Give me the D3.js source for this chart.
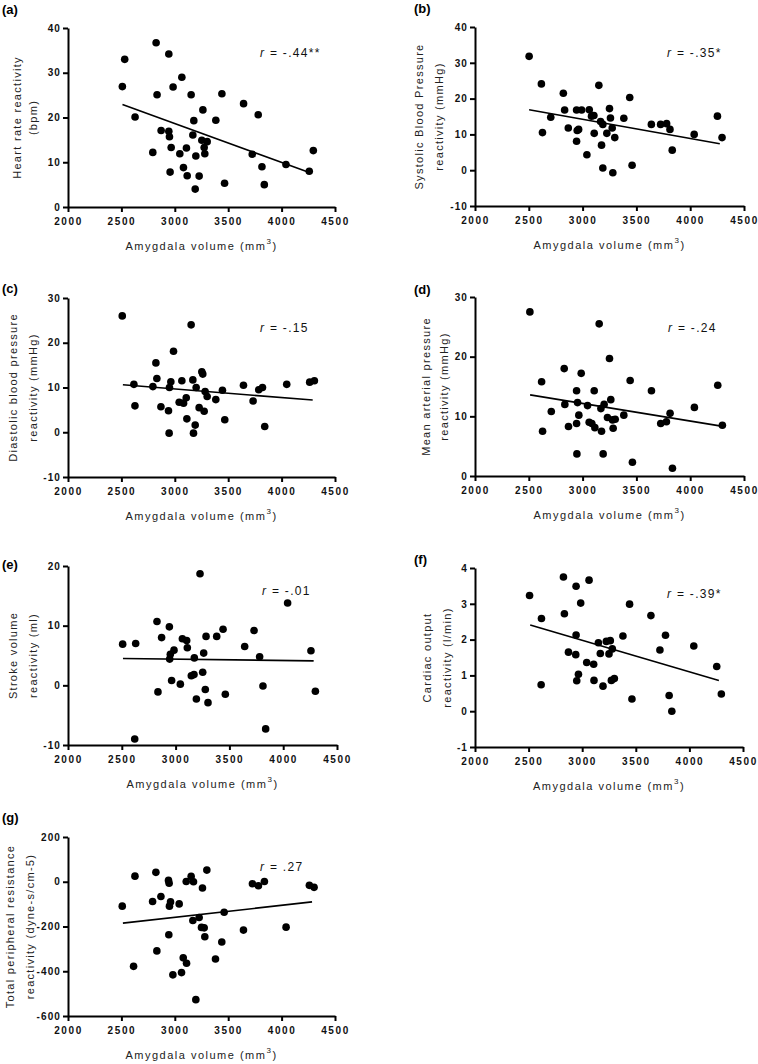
<!DOCTYPE html>
<html><head><meta charset="utf-8">
<script src="https://cdn.jsdelivr.net/npm/d3@7"></script>
<style>body{margin:0;background:#fff}svg{display:block}</style>
</head><body>
<svg id="chart" width="758" height="1064"></svg>
<script>
// ---------- DATA ----------
const xTicks = [2000, 2500, 3000, 3500, 4000, 4500];
const xDomain = [2000, 4500];

const hrPoints = [[2509,26.9],[2531,33.0],[2628,20.1],[2794,12.2],[2825,36.7],[2834,25.1],[2872,17.1],[2944,34.2],[2944,16.9],[2950,15.7],[2956,7.8],[2966,13.3],[2984,26.8],[3047,11.9],[3066,29.0],[3081,8.8],[3109,13.2],[3116,7.0],[3153,25.1],[3169,16.1],[3178,19.3],[3191,4.0],[3197,11.4],[3228,6.9],[3253,14.9],[3263,21.7],[3275,13.3],[3281,11.9],[3303,14.6],[3384,19.4],[3441,25.3],[3466,5.3],[3644,23.1],[3725,11.8],[3781,20.6],[3816,9.0],[3838,5.0],[4041,9.5],[4259,8.0],[4297,12.6]];
const sbpPoints = [[2503,31.8],[2617,24.1],[2627,10.5],[2704,14.8],[2821,21.5],[2833,16.8],[2867,11.8],[2944,16.8],[2944,8.1],[2950,11.1],[2963,11.4],[2991,16.8],[3040,4.3],[3062,16.9],[3083,15.1],[3105,15.3],[3108,10.3],[3151,23.7],[3167,13.6],[3176,7.0],[3188,12.8],[3188,0.6],[3225,10.3],[3250,17.2],[3259,14.6],[3275,11.8],[3281,-0.7],[3299,9.1],[3383,14.5],[3438,20.3],[3460,1.4],[3639,12.8],[3725,12.8],[3781,13.0],[3812,11.4],[3833,5.6],[4037,10.0],[4253,15.1],[4296,9.1]];
const dbpPoints = [[2508,26.0],[2617,10.7],[2627,5.9],[2795,10.2],[2823,15.5],[2832,12.0],[2870,5.7],[2941,4.8],[2947,-0.2],[2950,10.0],[2963,11.3],[2988,18.1],[3041,6.7],[3066,11.5],[3082,6.5],[3107,7.7],[3113,3.0],[3153,24.0],[3169,11.7],[3175,-0.2],[3191,1.6],[3200,10.0],[3228,5.5],[3253,13.5],[3262,13.0],[3275,4.7],[3284,9.1],[3303,8.0],[3384,7.3],[3446,9.4],[3468,2.8],[3643,10.5],[3733,7.0],[3786,9.5],[3821,10.0],[3842,1.3],[4048,10.7],[4263,11.2],[4307,11.5]];
const mapPoints = [[2510,27.5],[2619,15.8],[2628,7.5],[2709,10.8],[2829,18.0],[2835,12.0],[2869,8.3],[2944,14.3],[2944,8.8],[2947,3.7],[2953,12.3],[2965,10.2],[2987,17.2],[3046,11.8],[3061,9.0],[3086,8.8],[3108,14.3],[3114,8.1],[3154,25.5],[3170,11.3],[3176,7.5],[3191,3.7],[3200,12.0],[3231,9.8],[3250,19.7],[3262,12.8],[3278,9.4],[3284,8.0],[3303,9.5],[3383,10.2],[3442,16.0],[3463,2.3],[3640,14.3],[3726,8.8],[3779,9.1],[3813,10.5],[3835,1.3],[4039,11.5],[4256,15.2],[4299,8.5]];
const svPoints = [[2508,6.9],[2620,-9.0],[2629,7.0],[2827,10.7],[2836,-1.1],[2870,8.0],[2942,9.8],[2945,4.4],[2951,5.2],[2963,0.8],[2985,5.9],[3044,0.2],[3063,7.8],[3103,7.5],[3109,6.3],[3146,1.6],[3171,1.8],[3174,4.6],[3193,-2.3],[3227,18.7],[3252,2.2],[3261,5.4],[3276,-0.7],[3283,8.2],[3301,-2.9],[3382,8.2],[3441,9.4],[3462,-1.5],[3642,6.5],[3729,9.2],[3781,4.8],[3812,-0.1],[3837,-7.3],[4041,13.8],[4258,5.8],[4299,-1.0]];
const coPoints = [[2509,3.23],[2620,2.59],[2617,0.74],[2825,3.75],[2834,2.72],[2872,1.65],[2943,3.49],[2943,2.13],[2940,1.58],[2949,0.85],[2965,1.03],[2986,3.02],[3042,1.36],[3064,3.66],[3107,1.31],[3110,0.86],[3151,1.91],[3169,1.61],[3194,0.70],[3225,1.95],[3250,1.60],[3262,1.97],[3272,0.86],[3281,1.74],[3300,0.91],[3380,2.10],[3442,2.99],[3464,0.34],[3641,2.67],[3725,1.71],[3777,2.12],[3811,0.44],[3836,0.00],[4041,1.82],[4255,1.25],[4298,0.48]];
const tprPoints = [[2508,-109],[2614,-378],[2627,25],[2792,-88],[2823,42],[2832,-309],[2870,-66],[2941,6],[2944,-237],[2947,-7],[2950,-109],[2960,-90],[2982,-416],[3041,-99],[3063,-406],[3079,-340],[3107,1],[3110,-364],[3153,24],[3169,-173],[3175,0],[3197,-527],[3228,-160],[3250,-204],[3259,-28],[3275,-206],[3281,-246],[3300,52],[3381,-345],[3440,-269],[3462,-136],[3643,-216],[3727,-9],[3783,-18],[3839,1],[4042,-203],[4260,-16],[4304,-25]];

// fitted regression line endpoints
const hrFit  = [[2510,22.9],[4260,7.7]];
const sbpFit = [[2503,16.9],[4275,7.4]];
const dbpFit = [[2514,10.6],[4291,7.2]];
const mapFit = [[2512,13.6],[4275,8.4]];
const svFit  = [[2511,4.5],[4283,4.1]];
const coFit  = [[2515,2.41],[4275,0.86]];
const tprFit = [[2514,-185],[4285,-90]];

const hrTicks  = [0,10,20,30,40];
const sbpTicks = [-10,0,10,20,30,40];
const dbpTicks = [-10,0,10,20,30];
const mapTicks = [0,10,20,30];
const svTicks  = [-10,0,10,20];
const coTicks  = [-1,0,1,2,3,4];
const tprTicks = [-600,-400,-200,0,200];

const panelLabels = ["(a)","(b)","(c)","(d)","(e)","(f)","(g)"];
const rValues = ["-.44**","-.35*","-.15","-.24","-.01","-.39*",".27"];
const yTitles = [
  ["Heart rate  reactivity","(bpm)"],
  ["Systolic Blood Pressure","reactivity (mmHg)"],
  ["Diastolic blood pressure","reactivity (mmHg)"],
  ["Mean arterial pressure","reactivity (mmHg)"],
  ["Stroke volume","reactivity (ml)"],
  ["Cardiac output","reactivity (l/min)"],
  ["Total peripheral resistance","reactivity (dyne-s/cm-5)"]
];
const xTitle = "Amygdala volume (mm";

// ---------- LAYOUT ----------
const layout = [
  {x0:68,  w:267, y0:28,  lab:[2,14],    r:[260,57],  tt:[47,31]},
  {x0:475, w:269, y0:27,  lab:[414,13],  r:[667,57],  tt:[52,32]},
  {x0:68,  w:267, y0:298, lab:[2,293],   r:[260,332], tt:[51,31]},
  {x0:475, w:269, y0:297, lab:[414,294], r:[668,332], tt:[45,27]},
  {x0:68,  w:269, y0:566, lab:[2,569],   r:[262,595], tt:[51,31]},
  {x0:475, w:268, y0:568, lab:[414,564], r:[667,598], tt:[44,24]},
  {x0:68,  w:267, y0:837, lab:[2,822],   r:[260,871], tt:[54,34]}
];
const plotH = 179;

const panels = [
  {pts:hrPoints,  fit:hrFit,  ticks:hrTicks},
  {pts:sbpPoints, fit:sbpFit, ticks:sbpTicks},
  {pts:dbpPoints, fit:dbpFit, ticks:dbpTicks},
  {pts:mapPoints, fit:mapFit, ticks:mapTicks},
  {pts:svPoints,  fit:svFit,  ticks:svTicks},
  {pts:coPoints,  fit:coFit,  ticks:coTicks},
  {pts:tprPoints, fit:tprFit, ticks:tprTicks}
];

const FONT = "'Liberation Sans', Arial, Helvetica, sans-serif";
const svg = d3.select("#chart");
const fmt = d => String(d); // plain hyphen-minus like the original

function styleAxis(a, spacing) {
  a.select(".domain").attr("stroke", "#000").attr("stroke-width", 2);
  a.selectAll(".tick line").attr("stroke", "#000").attr("stroke-width", 2);
  a.selectAll(".tick text").attr("fill", "#111")
    .style("font-family", FONT).style("font-size", "10px")
    .style("font-weight", "bold").style("letter-spacing", spacing);
}

panels.forEach((p, i) => {
  const L = layout[i];
  const x = d3.scaleLinear().domain(xDomain).range([L.x0, L.x0 + L.w]);
  const y = d3.scaleLinear().domain(d3.extent(p.ticks)).range([L.y0 + plotH, L.y0]);
  const g = svg.append("g");

  const xa = g.append("g").attr("transform", `translate(0,${L.y0 + plotH})`)
    .call(d3.axisBottom(x).tickValues(xTicks).tickSize(5).tickSizeOuter(0).tickPadding(6).tickFormat(fmt));
  const ya = g.append("g").attr("transform", `translate(${L.x0},0)`)
    .call(d3.axisLeft(y).tickValues(p.ticks).tickSize(5).tickSizeOuter(0).tickPadding(2).tickFormat(fmt));
  styleAxis(xa, "1.6px");
  styleAxis(ya, "1.1px");

  // regression line
  g.append("path")
    .attr("d", d3.line().x(d => x(d[0])).y(d => y(d[1]))(p.fit))
    .attr("stroke", "#000").attr("stroke-width", 1.6).attr("fill", "none");

  // dots
  g.selectAll("circle.dot").data(p.pts).enter().append("circle")
    .attr("class", "dot")
    .attr("cx", d => x(d[0])).attr("cy", d => y(d[1])).attr("r", 3.8)
    .attr("fill", "#000");

  // panel label
  g.append("text").attr("x", L.lab[0]).attr("y", L.lab[1])
    .text(panelLabels[i])
    .style("font-family", FONT).style("font-size", "13px").style("font-weight", "bold");

  // r label
  const rt = g.append("text").attr("x", L.r[0]).attr("y", L.r[1])
    .style("font-family", FONT).style("font-size", "12px").style("letter-spacing", "1.3px").attr("fill", "#111");
  rt.append("tspan").style("font-style", "italic").text("r");
  rt.append("tspan").text(" =  " + rValues[i]);

  // x title
  const xt = g.append("text")
    .attr("x", L.x0 + L.w / 2).attr("y", L.y0 + plotH + 43)
    .attr("text-anchor", "middle")
    .style("font-family", FONT).style("font-size", "11px").style("letter-spacing", "1.5px").attr("fill", "#222");
  xt.append("tspan").text(xTitle);
  xt.append("tspan").attr("dy", "-6").style("font-size", "8px").text("3");
  xt.append("tspan").attr("dy", "6").text(")");

  // y title (two lines)
  const cy = L.y0 + plotH / 2;
  yTitles[i].forEach((line, k) => {
    const bx = L.x0 - L.tt[k];
    g.append("text")
      .attr("transform", `translate(${bx},${cy}) rotate(-90)`)
      .attr("text-anchor", "middle")
      .style("font-family", FONT).style("font-size", "11px").style("letter-spacing", "1.3px")
      .attr("fill", "#222")
      .text(line);
  });
});
</script>
</body></html>
